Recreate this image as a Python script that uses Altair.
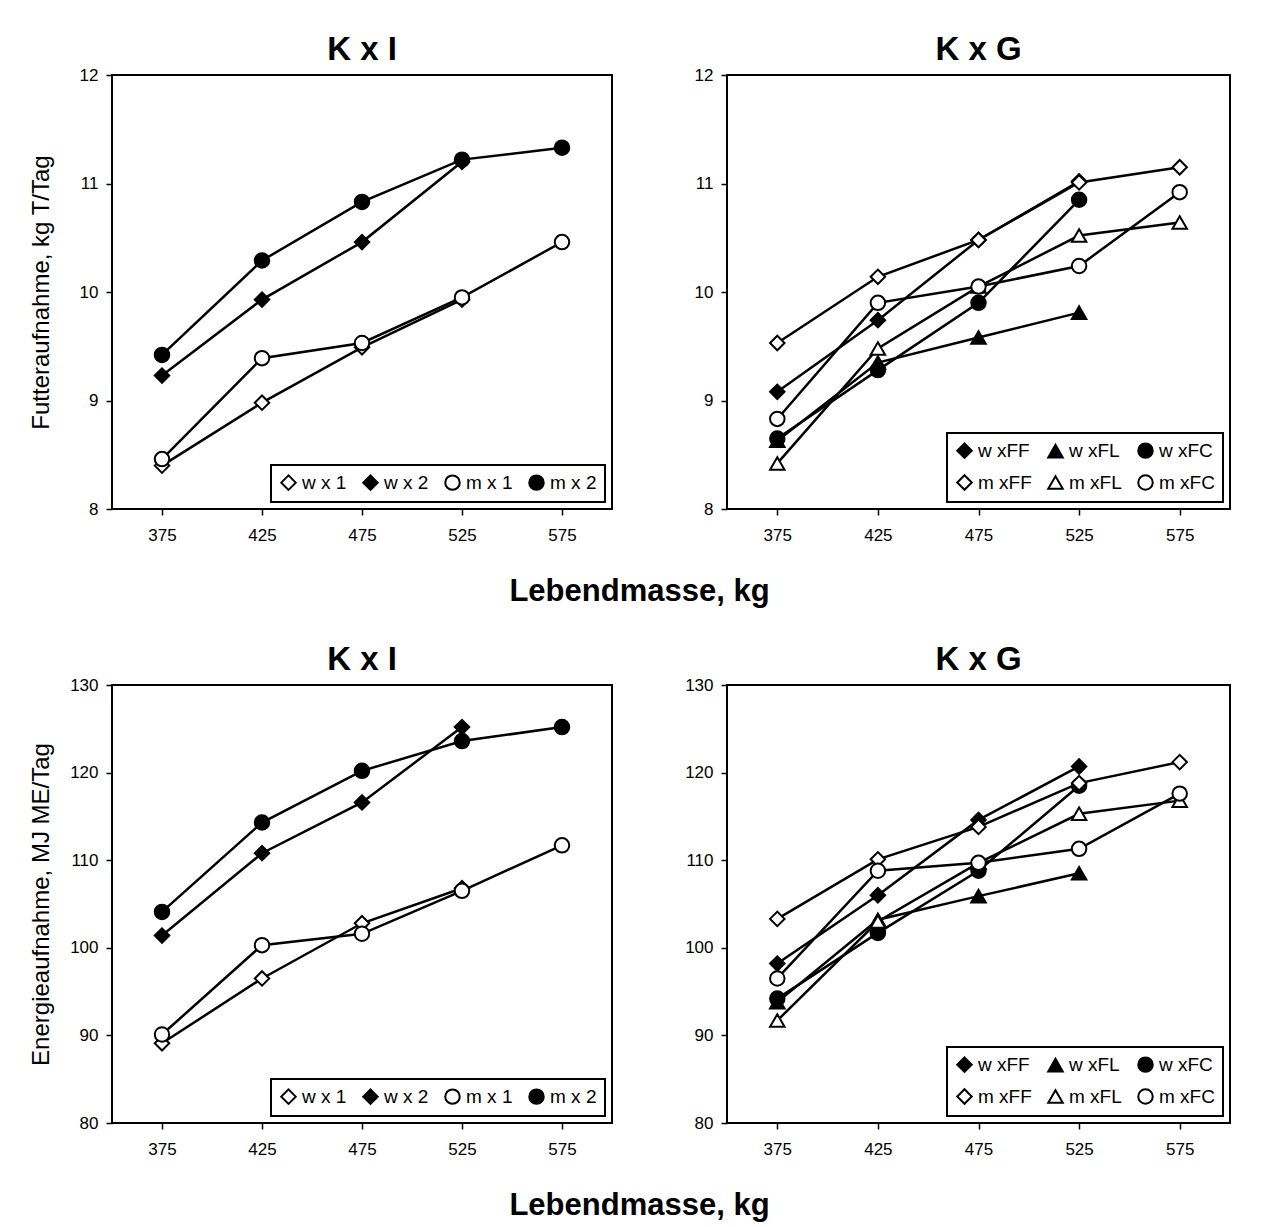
import altair as alt
import pandas as pd

FONT = "Liberation Sans"

# x categories (Lebendmasse, kg)
mass = [375, 425, 475, 525, 575]

# ---- Panel A: K x I, Futteraufnahme (kg T/Tag)
a_names = ["w x 1", "w x 2", "m x 1", "m x 2"]
a_w1 = [8.40, 8.98, 9.49, 9.93, None]
a_w2 = [9.23, 9.93, 10.46, 11.20, None]
a_m1 = [8.46, 9.39, 9.53, 9.95, 10.46]
a_m2 = [9.42, 10.29, 10.83, 11.22, 11.33]

# ---- Panel B: K x G, Futteraufnahme (kg T/Tag)
b_names = ["w xFF", "w xFL", "w xFC", "m xFF", "m xFL", "m xFC"]
b_wFF = [9.08, 9.74, 10.48, 11.02, None]
b_wFL = [8.63, 9.35, 9.58, 9.81, None]
b_wFC = [8.65, 9.28, 9.90, 10.85, None]
b_mFF = [9.53, 10.14, 10.48, 11.01, 11.15]
b_mFL = [8.42, 9.48, 10.05, 10.52, 10.64]
b_mFC = [8.83, 9.90, 10.05, 10.24, 10.92]

# ---- Panel C: K x I, Energieaufnahme (MJ ME/Tag)
c_w1 = [89.1, 96.5, 102.8, 106.8, None]
c_w2 = [101.4, 110.8, 116.6, 125.2, None]
c_m1 = [90.1, 100.3, 101.6, 106.5, 111.7]
c_m2 = [104.1, 114.3, 120.2, 123.6, 125.2]

# ---- Panel D: K x G, Energieaufnahme (MJ ME/Tag)
d_wFF = [98.2, 106.0, 114.6, 120.7, None]
d_wFL = [93.8, 103.2, 105.9, 108.5, None]
d_wFC = [94.2, 101.7, 108.8, 118.5, None]
d_mFF = [103.3, 110.1, 113.8, 118.8, 121.2]
d_mFL = [91.7, 103.0, 109.7, 115.3, 116.8]
d_mFC = [96.5, 108.8, 109.7, 111.3, 117.6]

a_shapes = ["diamond", "diamond", "circle", "circle"]
a_fills = ["white", "black", "white", "black"]
b_shapes = ["diamond", "triangle-up", "circle", "diamond", "triangle-up", "circle"]
b_fills = ["black", "black", "black", "white", "white", "white"]


def panel(names, series, shapes, fills, title, ydom, yvals, ytitle, width, height, columns):
    rows = []
    for n, vals in zip(names, series):
        for m, v in zip(mass, vals):
            if v is not None:
                rows.append({"mass": m, "value": v, "series": n})
    df = pd.DataFrame(rows)
    x = alt.X("mass:Q", scale=alt.Scale(domain=[350, 600], nice=False, zero=False),
              axis=alt.Axis(values=mass, title=None, labelPadding=12))
    if ytitle:
        yaxis = alt.Axis(values=yvals, title=ytitle)
    else:
        yaxis = alt.Axis(values=yvals, title=None)
    y = alt.Y("value:Q", scale=alt.Scale(domain=ydom, nice=False, zero=False), axis=yaxis)
    legend = alt.Legend(title=None, orient="bottom-right", columns=columns, direction="horizontal")
    base = alt.Chart(df)
    lines = base.mark_line(color="black", strokeWidth=2.5).encode(x=x, y=y, detail="series:N")
    pts = base.mark_point(filled=True, strokeWidth=2, size=210, opacity=1).encode(
        x=x, y=y,
        shape=alt.Shape("series:N", scale=alt.Scale(domain=names, range=shapes), legend=legend),
        fill=alt.Fill("series:N", scale=alt.Scale(domain=names, range=fills), legend=legend),
        stroke=alt.Stroke("series:N", scale=alt.Scale(domain=names, range=["black"] * len(names)),
                          legend=legend),
    )
    return alt.layer(lines, pts).properties(
        width=width, height=height,
        title=alt.TitleParams(title, anchor="middle"),
    )


A = panel(a_names, [a_w1, a_w2, a_m1, a_m2], a_shapes, a_fills, "K x I",
          [8, 12], [8, 9, 10, 11, 12], "Futteraufnahme, kg T/Tag", 500, 434, 4)
B = panel(b_names, [b_wFF, b_wFL, b_wFC, b_mFF, b_mFL, b_mFC], b_shapes, b_fills, "K x G",
          [8, 12], [8, 9, 10, 11, 12], None, 503, 434, 3)
C = panel(a_names, [c_w1, c_w2, c_m1, c_m2], a_shapes, a_fills, "K x I",
          [80, 130], [80, 90, 100, 110, 120, 130], "Energieaufnahme, MJ ME/Tag", 500, 438, 4)
D = panel(b_names, [d_wFF, d_wFL, d_wFC, d_mFF, d_mFL, d_mFC], b_shapes, b_fills, "K x G",
          [80, 130], [80, 90, 100, 110, 120, 130], None, 503, 438, 3)

xtitle = dict(text="Lebendmasse, kg", orient="bottom", anchor="middle", fontSize=31,
              fontWeight="bold", font=FONT, color="black", offset=33, dx=10)

indep = dict(shape="independent", fill="independent", stroke="independent")

top = alt.hconcat(A, B, spacing=68, title=alt.TitleParams(**xtitle)).resolve_scale(
    **indep).resolve_legend(**indep)
bottom = alt.hconcat(C, D, spacing=68, title=alt.TitleParams(**xtitle)).resolve_scale(
    **indep).resolve_legend(**indep)

chart = alt.vconcat(top, bottom, spacing=36).resolve_scale(**indep).resolve_legend(**indep).properties(
    padding={"left": 20, "top": 25, "right": 5, "bottom": 5}
).configure(background="white").configure_view(
    stroke="black", strokeWidth=2
).configure_axis(
    domain=False, grid=False, ticks=True, tickColor="black", tickWidth=1.5, tickSize=6,
    labelFont=FONT, labelFontSize=17, labelColor="black",
    titleFont=FONT, titleFontSize=24, titleFontWeight="normal", titleColor="black",
).configure_axisY(
    minExtent=45, maxExtent=45, labelPadding=8, titlePadding=14
).configure_title(
    font=FONT, fontSize=33, fontWeight="bold", color="black", offset=-1
).configure_legend(
    strokeColor="black", strokeWidth=2, fillColor="white", padding=8,
    labelFont=FONT, labelFontSize=19, labelColor="black",
    symbolSize=210, symbolStrokeWidth=2, symbolStrokeColor="black",
    columnPadding=12, rowPadding=9, offset=7,
)

chart.save("out.html", embed_options={"renderer": "svg", "actions": False})
